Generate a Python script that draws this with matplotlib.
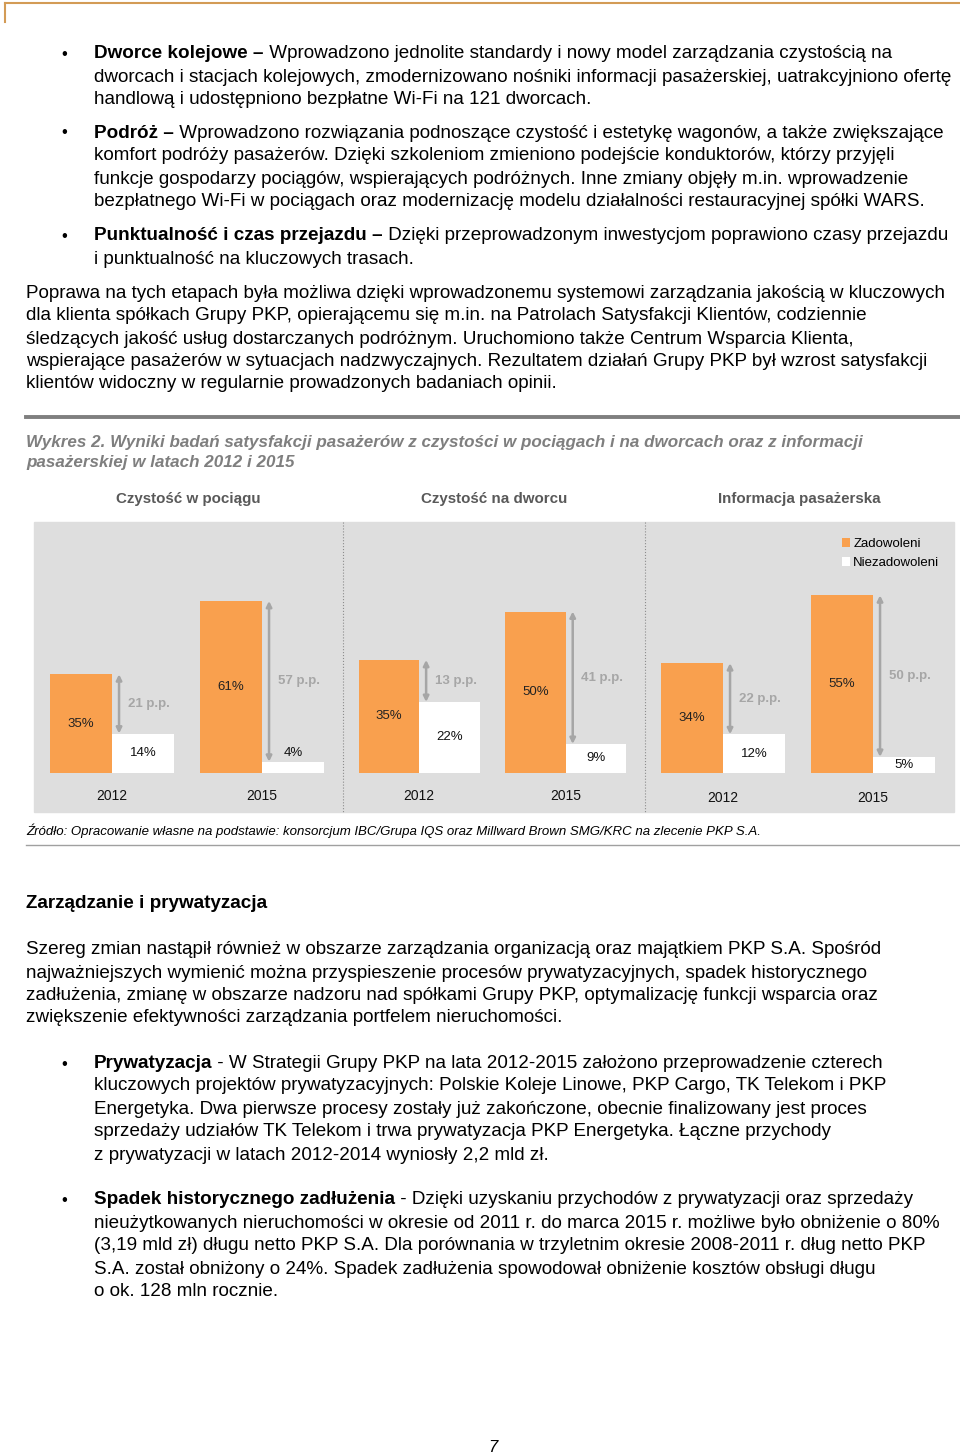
import numpy as np
import matplotlib
matplotlib.use('Agg')
import matplotlib.pyplot as plt
from matplotlib.patches import Rectangle
from matplotlib.lines import Line2D

plt.rcParams['font.family'] = ['Liberation Sans', 'DejaVu Sans']

# chart data
panel_titles = ['Czystość w pociągu', 'Czystość na dworcu', 'Informacja pasażerska']
years = ['2012', '2015']
satisfied = [[35, 61], [35, 50], [34, 55]]
unsatisfied = [[14, 4], [22, 9], [12, 5]]
legend_labels = ['Zadowoleni', 'Niezadowoleni']

# page text
bullet1 = ['Dworce kolejowe –',
           ' Wprowadzono jednolite standardy i nowy model zarządzania czystością na',
           'dworcach i stacjach kolejowych, zmodernizowano nośniki informacji pasażerskiej, uatrakcyjniono ofertę',
           'handlową i udostępniono bezpłatne Wi-Fi na 121 dworcach.']
bullet2 = ['Podróż –',
           ' Wprowadzono rozwiązania podnoszące czystość i estetykę wagonów, a także zwiększające',
           'komfort podróży pasażerów. Dzięki szkoleniom zmieniono podejście konduktorów, którzy przyjęli',
           'funkcje gospodarzy pociągów, wspierających podróżnych. Inne zmiany objęły m.in. wprowadzenie',
           'bezpłatnego Wi-Fi w pociągach oraz modernizację modelu działalności restauracyjnej spółki WARS.']
bullet3 = ['Punktualność i czas przejazdu –',
           ' Dzięki przeprowadzonym inwestycjom poprawiono czasy przejazdu',
           'i punktualność na kluczowych trasach.']
para1 = ['Poprawa na tych etapach była możliwa dzięki wprowadzonemu systemowi zarządzania jakością w kluczowych',
         'dla klienta spółkach Grupy PKP, opierającemu się m.in. na Patrolach Satysfakcji Klientów, codziennie',
         'śledzących jakość usług dostarczanych podróżnym. Uruchomiono także Centrum Wsparcia Klienta,',
         'wspierające pasażerów w sytuacjach nadzwyczajnych. Rezultatem działań Grupy PKP był wzrost satysfakcji',
         'klientów widoczny w regularnie prowadzonych badaniach opinii.']
caption = ['Wykres 2. Wyniki badań satysfakcji pasażerów z czystości w pociągach i na dworcach oraz z informacji',
           'pasażerskiej w latach 2012 i 2015']
source = 'Źródło: Opracowanie własne na podstawie: konsorcjum IBC/Grupa IQS oraz Millward Brown SMG/KRC na zlecenie PKP S.A.'
heading = 'Zarządzanie i prywatyzacja'
para2 = ['Szereg zmian nastąpił również w obszarze zarządzania organizacją oraz majątkiem PKP S.A. Spośród',
         'najważniejszych wymienić można przyspieszenie procesów prywatyzacyjnych, spadek historycznego',
         'zadłużenia, zmianę w obszarze nadzoru nad spółkami Grupy PKP, optymalizację funkcji wsparcia oraz',
         'zwiększenie efektywności zarządzania portfelem nieruchomości.']
bullet4 = ['Prywatyzacja',
           ' - W Strategii Grupy PKP na lata 2012-2015 założono przeprowadzenie czterech',
           'kluczowych projektów prywatyzacyjnych: Polskie Koleje Linowe, PKP Cargo, TK Telekom i PKP',
           'Energetyka. Dwa pierwsze procesy zostały już zakończone, obecnie finalizowany jest proces',
           'sprzedaży udziałów TK Telekom i trwa prywatyzacja PKP Energetyka. Łączne przychody',
           'z prywatyzacji w latach 2012-2014 wyniosły 2,2 mld zł.']
bullet5 = ['Spadek historycznego zadłużenia',
           ' - Dzięki uzyskaniu przychodów z prywatyzacji oraz sprzedaży',
           'nieużytkowanych nieruchomości w okresie od 2011 r. do marca 2015 r. możliwe było obniżenie o 80%',
           '(3,19 mld zł) długu netto PKP S.A. Dla porównania w trzyletnim okresie 2008-2011 r. dług netto PKP',
           'S.A. został obniżony o 24%. Spadek zadłużenia spowodował obniżenie kosztów obsługi długu',
           'o ok. 128 mln rocznie.']

W, H = 960, 1454
ORANGE = '#F9A04E'
GRAY = '#A6A6A6'
BODY = 13.6

fig = plt.figure(figsize=(W / 100, H / 100), dpi=100)
renderer = fig.canvas.get_renderer()


def fx(x):
    return x / W


def fy(y):
    return 1 - y / H


def hline(x0, x1, y, **kw):
    fig.add_artist(Line2D([fx(x0), fx(x1)], [fy(y), fy(y)], transform=fig.transFigure, **kw))


def vline(x, y0, y1, **kw):
    fig.add_artist(Line2D([fx(x), fx(x)], [fy(y0), fy(y1)], transform=fig.transFigure, **kw))


def text(x, y, s, **kw):
    # y is the visual line centre in page pixels
    opts = {'fontsize': BODY, 'va': 'center'} | kw
    return fig.text(fx(x), fy(y + 2), s, **opts)


def lines_at(x, ys, lines, **kw):
    for y, s in zip(ys, lines):
        text(x, y, s, **kw)


def bullet(ys, parts):
    text(64, ys[0], '•', ha='center', fontsize=12)
    t = text(94, ys[0], parts[0], fontweight='bold')
    bb = t.get_window_extent(renderer)
    text(bb.x1, ys[0], parts[1])
    lines_at(94, ys[1:], parts[2:])


# top border
hline(5, 960, 3, color='#D39B55', lw=1.5)
vline(5, 3, 22, color='#D39B55', lw=1.5)

bullet([52, 75, 98], bullet1)
bullet([131, 154, 177, 200], bullet2)
bullet([234, 257], bullet3)
lines_at(26, [291, 314, 337, 360, 382], para1)

hline(26, 960, 417, color='#7F7F7F', lw=2.8)
lines_at(26, [441, 461], caption, fontsize=12.25, fontweight='bold', style='italic', color='#7F7F7F')

# chart background and separators
fig.add_artist(Rectangle((fx(34), fy(812)), fx(954) - fx(34), (812 - 522) / H,
                         transform=fig.transFigure, color='#DEDEDE', zorder=-1))
vline(343, 522, 812, color='#8C8C8C', lw=0.8, ls=':')
vline(645, 522, 812, color='#8C8C8C', lw=0.8, ls=':')

panel_x = [(34, 343), (343, 645), (645, 954)]
px_per_pct = [2.82, 3.23, 3.23]
base_y, top_y = 773, 522
xs = np.arange(len(years))
bw = 0.413

for i, title in enumerate(panel_titles):
    x0, x1 = panel_x[i]
    ax = fig.add_axes([fx(x0), fy(base_y), fx(x1) - fx(x0), (base_y - top_y) / H])
    ax.set_xlim(-0.52, 1.54)
    ax.set_ylim(0, (base_y - top_y) / px_per_pct[i])
    ax.axis('off')
    sat = satisfied[i]
    uns = unsatisfied[i]
    b1 = ax.bar(xs - bw / 2, sat, width=bw, color=ORANGE)
    b2 = ax.bar(xs + bw / 2, uns, width=bw, color='white')
    for j, x in enumerate(xs):
        ax.text(x - bw / 2, sat[j] / 2, f'{sat[j]}%', ha='center', va='center', fontsize=9.5, color='#222222')
        uy = uns[j] / 2 if uns[j] >= 5 else uns[j] + 3
        ax.text(x + bw / 2, uy, f'{uns[j]}%', ha='center', va='center', fontsize=9.5, color='#111111')
        ax.annotate('', xy=(x + 0.047, sat[j]), xytext=(x + 0.047, uns[j]),
                    arrowprops=dict(arrowstyle='<|-|>', color=GRAY, lw=1.8, mutation_scale=8,
                                    shrinkA=0, shrinkB=0))
        ax.text(x + 0.105, (sat[j] + uns[j]) / 2, f'{sat[j] - uns[j]} p.p.', ha='left', va='center',
                fontsize=9.5, fontweight='bold', color=GRAY)
        ax.annotate(years[j], xy=(x, 0), xytext=(0, -23 if i < 2 else -25), textcoords='offset pixels',
                    ha='center', va='center', fontsize=10, color='#111111')
    ax.text(0.5, 1 + 23 / (base_y - top_y), title, transform=ax.transAxes, ha='center', va='center',
            fontsize=10.9, fontweight='bold', color='#595959')
    if i == 2:
        ax.legend([b1, b2], legend_labels, loc='upper left', bbox_to_anchor=(fx(842), fy(538)),
                  bbox_transform=fig.transFigure, frameon=False, fontsize=9.5, handlelength=0.6,
                  handleheight=0.6, handletextpad=0.25, labelspacing=0.55, borderpad=0, borderaxespad=0)

text(26, 829, source, fontsize=9.5, style='italic')
hline(26, 960, 845, color='#A0A0A0', lw=1)

text(26, 902, heading, fontweight='bold')
lines_at(26, [948, 971, 994, 1016], para2)
bullet([1062, 1084, 1107, 1130, 1153], bullet4)
bullet([1198, 1221, 1244, 1267, 1289], bullet5)

text(493, 1445, '7', fontsize=12, style='italic', ha='center')

fig.savefig('out.png', dpi=100)
